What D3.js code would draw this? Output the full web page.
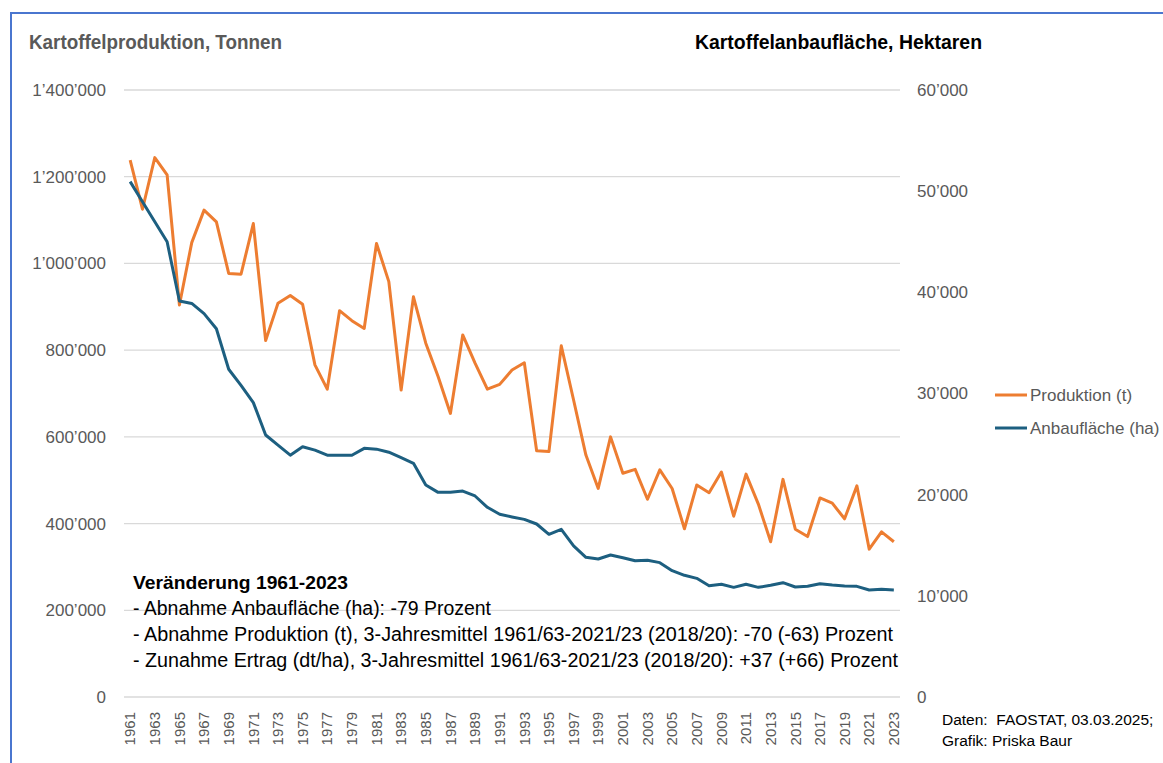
<!DOCTYPE html>
<html>
<head>
<meta charset="utf-8">
<script src="https://cdn.jsdelivr.net/npm/d3@7"></script>
<style>
  body{margin:0;background:#fff;}
  svg{display:block;}
  text{font-family:"Liberation Sans", Arial, sans-serif;}
</style>
</head>
<body>
<div id="chart"></div>
<script>
//FAOSTAT Schweiz, Kartoffeln 1961-2023
let years = d3.range(1961, 2024);

let produktion = [
  1238000,1125000,1244000,1204000,904000,1048000,1123000,1096000,977000,975000,
  1092000,822000,908000,926000,906000,766000,710000,891000,868000,850000,
  1046000,958000,708000,923000,816000,739000,654000,835000,770000,710000,
  721000,754000,771000,568000,566000,810000,685000,558000,481000,600000,
  516000,525000,456000,524000,481000,388000,489000,471000,519000,417000,
  514000,445000,358000,502000,387000,370000,459000,447000,411000,487000,
  341000,381000,358000
];

let flaeche = [
  50940,48960,46980,45000,39140,38900,37900,36400,32400,30800,
  29100,25900,24900,23900,24740,24400,23900,23900,23900,24580,
  24500,24200,23660,23100,20960,20230,20230,20360,19870,18750,
  18060,17800,17560,17100,16080,16580,14930,13810,13640,14040,
  13770,13470,13510,13280,12490,12030,11730,11000,11140,10840,
  11140,10840,11040,11300,10870,10940,11200,11070,10970,10940,
  10580,10640,10580
];

let leftTicks = [0,200000,400000,600000,800000,1000000,1200000,1400000];
let rightTicks = [0,10000,20000,30000,40000,50000,60000];
let xLabels = years.filter((y)=>(y-1961)%2===0);

let series = [
  {name:"Produktion (t)", values:produktion, axis:"left", color:"#ED7D31"},
  {name:"Anbaufläche (ha)", values:flaeche, axis:"right", color:"#1d5f80"}
];

let noteTitle = "Veränderung 1961-2023";
let notes = [
  "- Abnahme Anbaufläche (ha): -79 Prozent",
  "- Abnahme Produktion (t), 3-Jahresmittel 1961/63-2021/23 (2018/20): -70 (-63) Prozent",
  "- Zunahme Ertrag (dt/ha), 3-Jahresmittel 1961/63-2021/23 (2018/20): +37 (+66) Prozent"
];
//widths of the note lines as in the excel graphic
let noteWidths = [358, 760, 765];

let W = 1163, H = 763;
let plot = {left:124, right:900, top:90, bottom:697};

let loc = d3.formatLocale({decimal:".", thousands:"\u2019", grouping:[3], currency:["",""]});
let fmt = loc.format(",d");

let svg = d3.select("#chart").append("svg:svg").attr("width", W).attr("height", H);

//frame (blue border of the excel graphic)
svg.append("path")
  .attr("d", `M11,${H} L11,13 L${W},13`)
  .attr("fill","none").attr("stroke","#4a76cf").attr("stroke-width",2);

let x = d3.scaleBand().domain(years).range([plot.left, plot.right]);
let yL = d3.scaleLinear().domain([0,1400000]).range([plot.bottom, plot.top]);
let yR = d3.scaleLinear().domain([0,60000]).range([plot.bottom, plot.top]);

//gridlines
svg.append("g").selectAll("line").data(leftTicks).enter()
  .append("line")
  .attr("x1", plot.left).attr("x2", plot.right)
  .attr("y1", (d)=>yL(d)).attr("y2", (d)=>yL(d))
  .attr("stroke","#d9d9d9").attr("stroke-width",1.3);

//left axis
let gL = svg.append("g").attr("transform",`translate(${plot.left},0)`)
  .call(d3.axisLeft(yL).tickValues(leftTicks).tickFormat(fmt).tickSize(0).tickPadding(18));
gL.select(".domain").remove();
gL.selectAll("text").attr("fill","#595959").attr("font-size",17)
  .attr("font-family",'"Liberation Sans", Arial, sans-serif');

//right axis
let gR = svg.append("g").attr("transform",`translate(${plot.right},0)`)
  .call(d3.axisRight(yR).tickValues(rightTicks).tickFormat(fmt).tickSize(0).tickPadding(17));
gR.select(".domain").remove();
gR.selectAll("text").attr("fill","#595959").attr("font-size",17)
  .attr("font-family",'"Liberation Sans", Arial, sans-serif');

//x axis, rotated year labels
let gX = svg.append("g").attr("transform",`translate(0,${plot.bottom})`)
  .call(d3.axisBottom(x).tickValues(xLabels).tickSize(0).tickPadding(0));
gX.select(".domain").remove();
gX.selectAll("text")
  .attr("fill","#595959").attr("font-size",15)
  .attr("font-family",'"Liberation Sans", Arial, sans-serif')
  .attr("transform","rotate(-90)")
  .attr("text-anchor","end")
  .attr("x",-15).attr("y",0).attr("dy","0.35em");

//lines
series.forEach((s)=>{
  let yS = s.axis==="left" ? yL : yR;
  let line = d3.line()
    .x((d,i)=>x(years[i]) + x.bandwidth()/2)
    .y((d)=>yS(d));
  svg.append("path").datum(s.values)
    .attr("d", line)
    .attr("fill","none")
    .attr("stroke", s.color)
    .attr("stroke-width",3)
    .attr("stroke-linejoin","round");
});

//axis titles
svg.append("text").attr("x",29).attr("y",49)
  .attr("font-family",'Roboto, "Liberation Sans", sans-serif')
  .attr("font-weight","bold").attr("font-size",19.5).attr("fill","#595959")
  .attr("textLength",253).attr("lengthAdjust","spacingAndGlyphs")
  .text("Kartoffelproduktion, Tonnen");
svg.append("text").attr("x",695).attr("y",49)
  .attr("font-family",'Roboto, "Liberation Sans", sans-serif')
  .attr("font-weight","bold").attr("font-size",19.5).attr("fill","#000")
  .attr("textLength",287).attr("lengthAdjust","spacingAndGlyphs")
  .text("Kartoffelanbaufläche, Hektaren");

//legend
let leg = svg.append("g").selectAll("g").data(series).enter()
  .append("g").attr("transform",(d,i)=>`translate(995,${395 + i*33})`);
leg.append("line").attr("x1",0).attr("x2",32).attr("y1",0).attr("y2",0)
  .attr("stroke",(d)=>d.color).attr("stroke-width",3);
leg.append("text").attr("x",35).attr("y",0).attr("dy","0.35em")
  .attr("font-size",17).attr("fill","#595959")
  .text((d)=>d.name);

//note block
let note = svg.append("g").attr("transform","translate(133,0)");
note.append("text").attr("x",0).attr("y",589)
  .attr("font-size",19).attr("font-weight","bold").attr("fill","#000")
  .attr("textLength",215).attr("lengthAdjust","spacingAndGlyphs")
  .text(noteTitle);
note.selectAll("text.n").data(notes).enter()
  .append("text").attr("class","n")
  .attr("x",0).attr("y",(d,i)=>615 + i*26)
  .attr("font-size",19.5).attr("fill","#000")
  .attr("textLength",(d,i)=>noteWidths[i]).attr("lengthAdjust","spacingAndGlyphs")
  .text((d)=>d);

//source
svg.append("text").attr("x",942).attr("y",725)
  .attr("font-family",'Roboto, "Liberation Sans", sans-serif')
  .attr("font-size",15.5).attr("fill","#000")
  .attr("xml:space","preserve")
  .text("Daten:  FAOSTAT, 03.03.2025;");
svg.append("text").attr("x",942).attr("y",746)
  .attr("font-family",'Roboto, "Liberation Sans", sans-serif')
  .attr("font-size",15.5).attr("fill","#000")
  .text("Grafik: Priska Baur");
</script>
</body>
</html>
